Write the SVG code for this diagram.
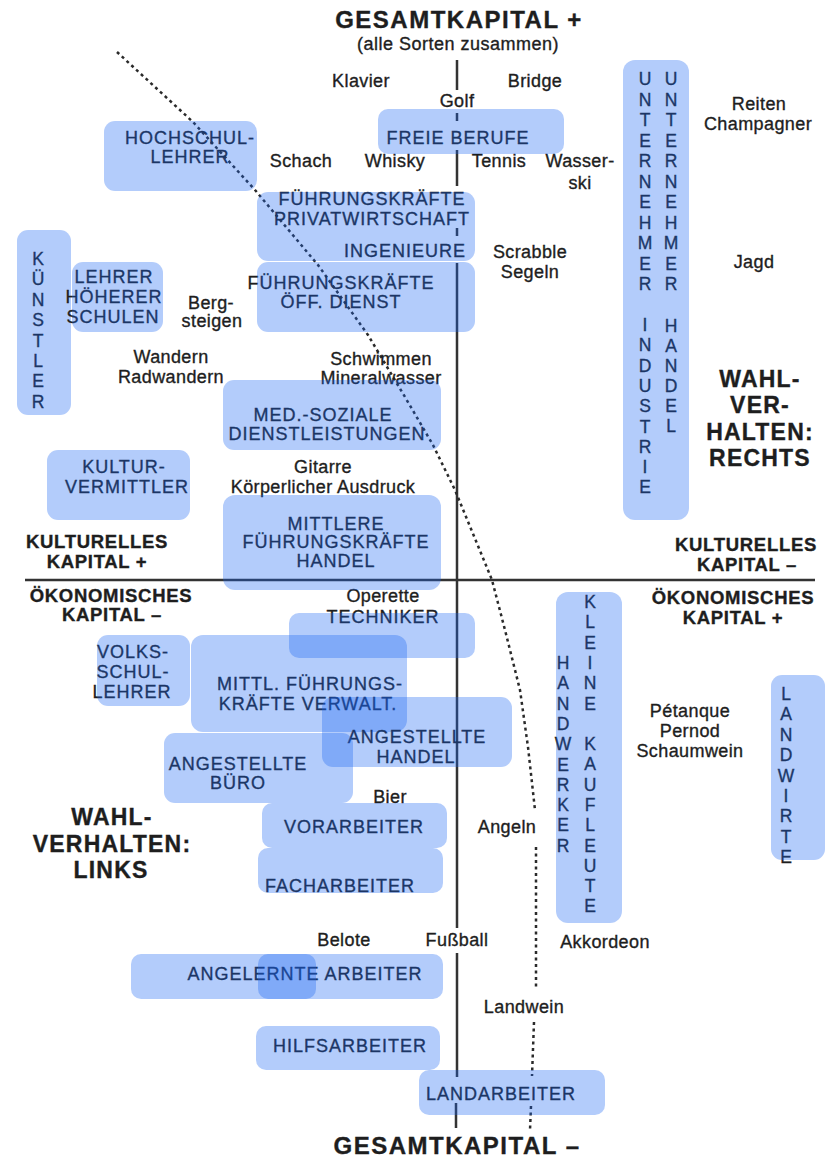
<svg xmlns="http://www.w3.org/2000/svg" width="826" height="1164" viewBox="0 0 826 1164">
<style>
text{font-family:"Liberation Sans",Arial,sans-serif;fill:#1e1e1e;text-anchor:middle;stroke:#1e1e1e;stroke-width:0.35}
.t{font-size:18px;letter-spacing:0.4px}
.sub{font-size:18px;letter-spacing:0.5px}
.h{font-size:18.5px;font-weight:bold;letter-spacing:0.7px}
.w{font-size:23px;font-weight:bold;letter-spacing:1.2px}
.ttl{font-size:24px;font-weight:bold;letter-spacing:1.5px}
.b{font-size:18px;letter-spacing:1px}
.v{font-size:17.5px}
.box{fill:#1864f3;fill-opacity:0.33}
.axis{stroke:#333;stroke-width:2.5;fill:none}
.dot{stroke:#2a2a2a;stroke-width:2.5;fill:none;stroke-dasharray:3 3.5;stroke-linejoin:round}
</style>
<rect width="826" height="1164" fill="#fff"/>
<g id="connectors">
<path class="axis" d="M457,60V90M457,113V121M457,150V186M457,228V236M457,263V928M457,953V1077M456,1103V1128"/>
<path class="axis" d="M25,580H815" stroke-width="3"/>
<path class="dot" d="M117,52L193,122L255,190L318,265L368,335L405,397L433,445L455,490L492,580L505,630L520,690L528,747L535,810"/>
<path class="dot" d="M536,847L536,990M534,1022L532,1076M531,1106L530,1130"/>
</g>
<g id="labels">
<text class="ttl" x="459" y="28">GESAMTKAPITAL +</text>
<text class="sub" x="458" y="50">(alle Sorten zusammen)</text>
<text class="ttl" x="457" y="1154">GESAMTKAPITAL –</text>
<text class="t" x="361" y="87">Klavier</text>
<text class="t" x="535" y="87">Bridge</text>
<text class="t" x="457" y="107">Golf</text>
<text class="t" x="301" y="167">Schach</text>
<text class="t" x="395" y="167">Whisky</text>
<text class="t" x="499" y="167">Tennis</text>
<text class="t" x="580" y="167">Wasser-</text>
<text class="t" x="580" y="189">ski</text>
<text class="t" x="759" y="110">Reiten</text>
<text class="t" x="758" y="130">Champagner</text>
<text class="t" x="530" y="258">Scrabble</text>
<text class="t" x="530" y="278">Segeln</text>
<text class="t" x="754" y="268">Jagd</text>
<text class="t" x="211" y="309">Berg-</text>
<text class="t" x="212" y="327">steigen</text>
<text class="t" x="171" y="363">Wandern</text>
<text class="t" x="171" y="383">Radwandern</text>
<text class="t" x="381" y="365">Schwimmen</text>
<text class="t" x="381" y="384">Mineralwasser</text>
<text class="t" x="323" y="473">Gitarre</text>
<text class="t" x="323" y="493">Körperlicher Ausdruck</text>
<text class="t" x="383" y="602">Operette</text>
<text class="t" x="690" y="717">Pétanque</text>
<text class="t" x="690" y="737">Pernod</text>
<text class="t" x="690" y="757">Schaumwein</text>
<text class="t" x="390" y="803">Bier</text>
<text class="t" x="507" y="833">Angeln</text>
<text class="t" x="344" y="946">Belote</text>
<text class="t" x="457" y="946">Fußball</text>
<text class="t" x="605" y="948">Akkordeon</text>
<text class="t" x="524" y="1013">Landwein</text>
<text class="h" x="97" y="548">KULTURELLES</text>
<text class="h" x="97" y="568">KAPITAL +</text>
<text class="h" x="111" y="602">ÖKONOMISCHES</text>
<text class="h" x="112" y="621">KAPITAL –</text>
<text class="h" x="746" y="551">KULTURELLES</text>
<text class="h" x="747" y="571">KAPITAL –</text>
<text class="h" x="733" y="604">ÖKONOMISCHES</text>
<text class="h" x="733" y="624">KAPITAL +</text>
<text class="w" x="760" y="387">WAHL-</text>
<text class="w" x="760" y="413">VER-</text>
<text class="w" x="760" y="440">HALTEN:</text>
<text class="w" x="760" y="466">RECHTS</text>
<text class="w" x="112" y="825">WAHL-</text>
<text class="w" x="112" y="852">VERHALTEN:</text>
<text class="w" x="111" y="878">LINKS</text>
</g>
<g id="hochschullehrer"><text class="b" x="190" y="144">HOCHSCHUL-</text><text class="b" x="190" y="163">LEHRER</text><rect class="box" x="104" y="121" width="153" height="70" rx="11"/></g>
<g id="freie-berufe"><text class="b" x="458" y="144">FREIE BERUFE</text><rect class="box" x="378" y="109" width="186" height="45" rx="10"/></g>
<g id="fk-privatwirtschaft"><text class="b" x="372" y="205">FÜHRUNGSKRÄFTE</text><text class="b" x="372" y="225">PRIVATWIRTSCHAFT</text><text class="b" x="405" y="257">INGENIEURE</text><rect class="box" x="257" y="192" width="218" height="69" rx="11"/></g>
<g id="fk-oeff-dienst"><text class="b" x="341" y="289">FÜHRUNGSKRÄFTE</text><text class="b" x="341" y="308">ÖFF. DIENST</text><rect class="box" x="257" y="262" width="218" height="70" rx="11"/></g>
<g id="unternehmer"><text class="v"><tspan x="645" y="85">U</tspan><tspan x="645" y="105.5">N</tspan><tspan x="645" y="126">T</tspan><tspan x="645" y="146.5">E</tspan><tspan x="645" y="167">R</tspan><tspan x="645" y="187.5">N</tspan><tspan x="645" y="208">E</tspan><tspan x="645" y="228.5">H</tspan><tspan x="645" y="249">M</tspan><tspan x="645" y="269.5">E</tspan><tspan x="645" y="290">R</tspan><tspan x="645" y="331">I</tspan><tspan x="645" y="351.3">N</tspan><tspan x="645" y="371.6">D</tspan><tspan x="645" y="391.9">U</tspan><tspan x="645" y="412.2">S</tspan><tspan x="645" y="432.5">T</tspan><tspan x="645" y="452.8">R</tspan><tspan x="645" y="473.1">I</tspan><tspan x="645" y="493.4">E</tspan></text><text class="v"><tspan x="671" y="85">U</tspan><tspan x="671" y="105.5">N</tspan><tspan x="671" y="126">T</tspan><tspan x="671" y="146.5">E</tspan><tspan x="671" y="167">R</tspan><tspan x="671" y="187.5">N</tspan><tspan x="671" y="208">E</tspan><tspan x="671" y="228.5">H</tspan><tspan x="671" y="249">M</tspan><tspan x="671" y="269.5">E</tspan><tspan x="671" y="290">R</tspan><tspan x="671" y="332">H</tspan><tspan x="671" y="352">A</tspan><tspan x="671" y="372">N</tspan><tspan x="671" y="392">D</tspan><tspan x="671" y="412">E</tspan><tspan x="671" y="432">L</tspan></text><rect class="box" x="623" y="60" width="66" height="460" rx="12"/></g>
<g id="kuenstler"><text class="v"><tspan x="38" y="265">K</tspan><tspan x="38" y="285.4">Ü</tspan><tspan x="38" y="305.8">N</tspan><tspan x="38" y="326.2">S</tspan><tspan x="38" y="346.6">T</tspan><tspan x="38" y="367">L</tspan><tspan x="38" y="387.4">E</tspan><tspan x="38" y="407.8">R</tspan></text><rect class="box" x="17" y="230" width="54" height="185" rx="11"/></g>
<g id="lehrer-hoeherer-schulen"><text class="b" x="114" y="283">LEHRER</text><text class="b" x="114" y="303">HÖHERER</text><text class="b" x="113" y="323">SCHULEN</text><rect class="box" x="72" y="262" width="91" height="70" rx="11"/></g>
<g id="med-soziale"><text class="b" x="323" y="421">MED.-SOZIALE</text><text class="b" x="327" y="440">DIENSTLEISTUNGEN</text><rect class="box" x="223" y="380" width="218" height="70" rx="11"/></g>
<g id="kulturvermittler"><text class="b" x="124" y="473">KULTUR-</text><text class="b" x="127" y="493">VERMITTLER</text><rect class="box" x="47" y="450" width="143" height="70" rx="11"/></g>
<g id="mittlere-fk-handel"><text class="b" x="336" y="530">MITTLERE</text><text class="b" x="336" y="548">FÜHRUNGSKRÄFTE</text><text class="b" x="336" y="567">HANDEL</text><rect class="box" x="223" y="495" width="218" height="95" rx="12"/></g>
<g id="techniker"><text class="b" x="383" y="623">TECHNIKER</text><rect class="box" x="289" y="613" width="186" height="45" rx="10"/></g>
<g id="volksschullehrer"><text class="b" x="133" y="658">VOLKS-</text><text class="b" x="133" y="678">SCHUL-</text><text class="b" x="132" y="698">LEHRER</text><rect class="box" x="97" y="635" width="93" height="71" rx="11"/></g>
<g id="mittl-fk-verwalt"><text class="b" x="310" y="690">MITTL. FÜHRUNGS-</text><text class="b" x="308" y="710">KRÄFTE VERWALT.</text><rect class="box" x="191" y="635" width="216" height="97" rx="12"/></g>
<g id="angestellte-handel"><text class="b" x="417" y="743">ANGESTELLTE</text><text class="b" x="416" y="763">HANDEL</text><rect class="box" x="322" y="697" width="190" height="70" rx="11"/></g>
<g id="angestellte-buero"><text class="b" x="238" y="770">ANGESTELLTE</text><text class="b" x="238" y="789">BÜRO</text><rect class="box" x="164" y="733" width="189" height="70" rx="11"/></g>
<g id="vorarbeiter"><text class="b" x="354" y="833">VORARBEITER</text><rect class="box" x="262" y="803" width="185" height="45" rx="10"/></g>
<g id="facharbeiter"><text class="b" x="340" y="892">FACHARBEITER</text><rect class="box" x="258" y="848" width="185" height="45" rx="10"/></g>
<g id="handwerker-kaufleute"><text class="v"><tspan x="563" y="669">H</tspan><tspan x="563" y="689.3">A</tspan><tspan x="563" y="709.6">N</tspan><tspan x="563" y="729.9">D</tspan><tspan x="563" y="750.2">W</tspan><tspan x="563" y="770.5">E</tspan><tspan x="563" y="790.8">R</tspan><tspan x="563" y="811.1">K</tspan><tspan x="563" y="831.4">E</tspan><tspan x="563" y="851.7">R</tspan></text><text class="v"><tspan x="590" y="608">K</tspan><tspan x="590" y="628.3">L</tspan><tspan x="590" y="648.6">E</tspan><tspan x="590" y="668.9">I</tspan><tspan x="590" y="689.2">N</tspan><tspan x="590" y="709.5">E</tspan><tspan x="590" y="750">K</tspan><tspan x="590" y="770.3">A</tspan><tspan x="590" y="790.6">U</tspan><tspan x="590" y="810.9">F</tspan><tspan x="590" y="831.2">L</tspan><tspan x="590" y="851.5">E</tspan><tspan x="590" y="871.8">U</tspan><tspan x="590" y="892.1">T</tspan><tspan x="590" y="912.4">E</tspan></text><rect class="box" x="556" y="592" width="66" height="331" rx="12"/></g>
<g id="landwirte"><text class="v"><tspan x="786" y="700">L</tspan><tspan x="786" y="720.4">A</tspan><tspan x="786" y="740.8">N</tspan><tspan x="786" y="761.2">D</tspan><tspan x="786" y="781.6">W</tspan><tspan x="786" y="802">I</tspan><tspan x="786" y="822.4">R</tspan><tspan x="786" y="842.8">T</tspan><tspan x="786" y="863.2">E</tspan></text><rect class="box" x="771" y="675" width="54" height="185" rx="11"/></g>
<g id="angelernte-arbeiter"><text class="b" x="305" y="980">ANGELERNTE ARBEITER</text><rect class="box" x="131" y="954" width="185" height="45" rx="10"/><rect class="box" x="258" y="954" width="185" height="45" rx="10"/></g>
<g id="hilfsarbeiter"><text class="b" x="350" y="1052">HILFSARBEITER</text><rect class="box" x="256" y="1026" width="184" height="44" rx="10"/></g>
<g id="landarbeiter"><text class="b" x="501" y="1100">LANDARBEITER</text><rect class="box" x="419" y="1070" width="186" height="45" rx="10"/></g>
</svg>
